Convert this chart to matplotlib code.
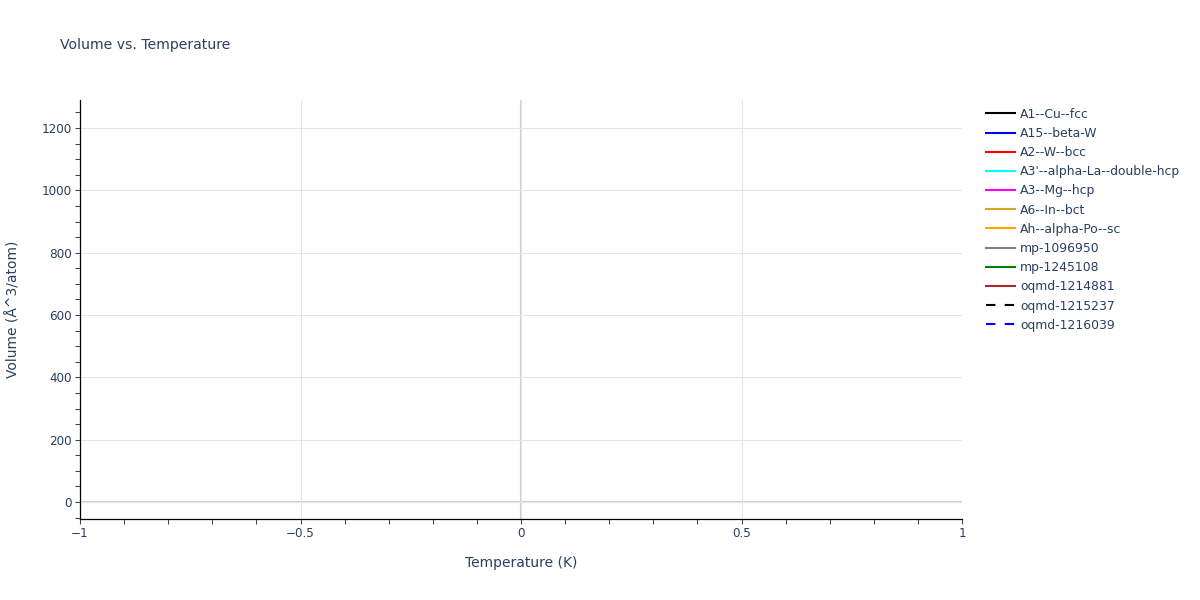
"""
Volume vs. Temperature — boş veri ile plotly tarzı grafik.
"""

import matplotlib
matplotlib.use("Agg")
import matplotlib.pyplot as plt
from matplotlib.ticker import MultipleLocator

plt.rcParams["font.family"] = ["DejaVu Sans"]

TEXT_COLOR = "#2a3f5f"
GRID_COLOR = "#e5e5e5"
ZERO_COLOR = "#d0d0d0"

# --- Seriler (referansta hiçbir veri noktası görünmüyor) ---
series_names = [
    "A1--Cu--fcc", "A15--beta-W", "A2--W--bcc", "A3'--alpha-La--double-hcp",
    "A3--Mg--hcp", "A6--In--bct", "Ah--alpha-Po--sc", "mp-1096950",
    "mp-1245108", "oqmd-1214881", "oqmd-1215237", "oqmd-1216039",
]
series_colors = [
    "black", "blue", "red", "cyan", "magenta", "goldenrod", "orange",
    "grey", "green", "brown", "black", "blue",
]
series_dashed = [False] * 10 + [True, True]
temperature = [[] for _ in series_names]
volume = [[] for _ in series_names]

x_range = (-1, 1)
y_range = (-54.5, 1290)
x_ticks = [-1, -0.5, 0, 0.5, 1]
x_ticklabels = ["\u22121", "\u22120.5", "0", "0.5", "1"]
y_ticks = [0, 200, 400, 600, 800, 1000, 1200]

fig = plt.figure(figsize=(12, 6), dpi=100)
ax = fig.add_axes([80 / 1200, 81 / 600, 882 / 1200, 419 / 600])

for name, color, dashed, xs, ys in zip(series_names, series_colors, series_dashed,
                                       temperature, volume):
    ls = (0, (4.5, 4.5)) if dashed else "-"
    ax.plot(xs, ys, color=color, lw=1.5, ls=ls, label=name)

ax.set_xlim(*x_range)
ax.set_ylim(*y_range)

# grid + zero lines
ax.set_xticks(x_ticks)
ax.set_xticklabels(x_ticklabels)
ax.set_yticks(y_ticks)
ax.xaxis.set_minor_locator(MultipleLocator(0.1))
ax.yaxis.set_minor_locator(MultipleLocator(50))
ax.grid(True, which="major", color=GRID_COLOR, lw=0.75, zorder=0)
ax.axhline(0, color=ZERO_COLOR, lw=1.5, zorder=0.5)
ax.axvline(0, color=ZERO_COLOR, lw=1.5, zorder=0.5)

for s in ["top", "right"]:
    ax.spines[s].set_visible(False)
for s in ["left", "bottom"]:
    ax.spines[s].set_color("black")
    ax.spines[s].set_linewidth(0.9)

ax.tick_params(which="both", direction="out", colors="#444444", width=0.75,
               labelcolor=TEXT_COLOR, labelsize=8.64)
ax.tick_params(which="major", length=3.6, pad=2.5)
ax.tick_params(which="minor", length=3.6)

ax.set_xlabel("Temperature (K)", fontsize=10, color=TEXT_COLOR, labelpad=11)
ax.set_ylabel("Volume (Å^3/atom)", fontsize=10, color=TEXT_COLOR, labelpad=15)

fig.text(60 / 1200, 1 - 45 / 600, "Volume vs. Temperature", fontsize=10.1,
         color=TEXT_COLOR, va="center", ha="left")

fig.legend(loc="upper left", bbox_to_anchor=(982 / 1200, 1 - 104 / 600),
           frameon=False, fontsize=8.9, handlelength=2.4, handletextpad=0.4,
           labelspacing=0.5, borderaxespad=0, borderpad=0.3,
           labelcolor=TEXT_COLOR)

fig.savefig("out.png", dpi=100)
plt.close(fig)
